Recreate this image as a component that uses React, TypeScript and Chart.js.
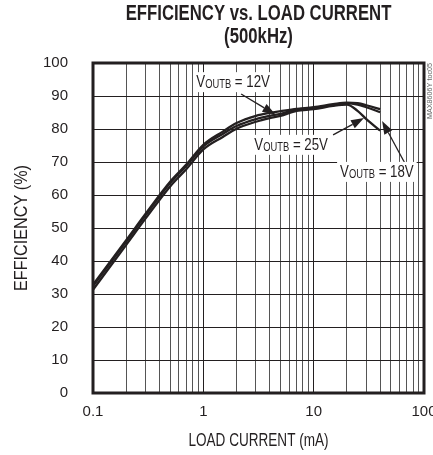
import React, { useEffect, useRef } from "react";
import { Chart, registerables } from "chart.js";
Chart.register(...registerables);

const loadCurrent = [0.1, 0.2, 0.3, 0.5, 0.7, 1, 1.5, 2, 3, 4, 5, 7, 10, 15, 20, 25, 30, 40];
const eff12V = [32.8, 46.3, 54.3, 64.0, 69.2, 75.2, 79.2, 81.8, 84.0, 84.9, 85.4, 86.1, 86.6, 87.5, 88.0, 87.8, 87.2, 86.0];
const eff18V = [32.4, 45.9, 53.9, 63.6, 68.8, 74.7, 78.5, 80.9, 83.0, 84.0, 84.6, 85.9, 86.3, 87.3, 87.8, 87.4, 86.6, 85.1];
const eff25V = [31.3, 44.9, 52.9, 62.6, 67.8, 73.8, 77.6, 80.1, 82.2, 83.3, 84.0, 85.5, 86.0, 87.0, 87.4, 85.5, 83.0, 79.5];

const xTickLabels = [0.1, 1, 10, 100];
const xGridValues = [
  0.1, 0.2, 0.3, 0.4, 0.5, 0.6, 0.7, 0.8, 0.9,
  1, 2, 3, 4, 5, 6, 7, 8, 9,
  10, 20, 30, 40, 50, 60, 70, 80, 90, 100,
];
const yTickValues = [0, 10, 20, 30, 40, 50, 60, 70, 80, 90, 100];

const titleLines = ["EFFICIENCY vs. LOAD CURRENT", "(500kHz)"];
const xTitle = "LOAD CURRENT (mA)";
const yTitle = "EFFICIENCY (%)";
const sideNote = "MAX8606Y toc05";

// label callouts in data coordinates: label centre, arrow tail, arrow tip
const callouts = [
  { main: "V", sub: "OUTB", tail: " = 12V", at: [1.86, 94.2], from: [2.2, 90.6], to: [4.5, 84.4] },
  { main: "V", sub: "OUTB", tail: " = 25V", at: [6.25, 75.2], from: [15.0, 78.2], to: [28.6, 83.3] },
  { main: "V", sub: "OUTB", tail: " = 18V", at: [37.4, 67.0], from: [67.0, 69.7], to: [41.7, 82.4] },
];

const FONT = "'Liberation Sans', Arial, sans-serif";
const INK = "#231f20";

function narrowText(ctx: any, text: string, x: number, y: number, font: string, sx: number, align: string, rot = 0) {
  ctx.save();
  ctx.translate(x, y);
  if (rot) ctx.rotate(rot);
  ctx.scale(sx, 1);
  ctx.font = font;
  ctx.textAlign = align;
  ctx.textBaseline = "middle";
  ctx.fillText(text, 0, 0);
  ctx.restore();
}

export default function App() {
  const ref = useRef<HTMLCanvasElement>(null);
  useEffect(() => {
    document.body.style.margin = "0";
    document.body.style.overflow = "hidden";
    const canvas = ref.current!;
    const pts = (ys: number[]) => loadCurrent.map((x, i) => ({ x, y: ys[i] }));

    const decor = {
      id: "decor",
      afterDatasetsDraw(chart: any) {
        const ctx = chart.ctx;
        const xs = chart.scales.x;
        const ys = chart.scales.y;
        ctx.save();
        for (const c of callouts) {
          const fx = xs.getPixelForValue(c.from[0]);
          const fy = ys.getPixelForValue(c.from[1]);
          const tx = xs.getPixelForValue(c.to[0]);
          const ty = ys.getPixelForValue(c.to[1]);
          const ang = Math.atan2(ty - fy, tx - fx);
          const hl = 13, hw = 4.5;
          const bx = tx - hl * Math.cos(ang);
          const by = ty - hl * Math.sin(ang);
          ctx.strokeStyle = INK;
          ctx.fillStyle = INK;
          ctx.lineWidth = 1.3;
          ctx.beginPath();
          ctx.moveTo(fx, fy);
          ctx.lineTo(bx, by);
          ctx.stroke();
          ctx.beginPath();
          ctx.moveTo(tx, ty);
          ctx.lineTo(bx + hw * Math.sin(ang), by - hw * Math.cos(ang));
          ctx.lineTo(bx - hw * Math.sin(ang), by + hw * Math.cos(ang));
          ctx.closePath();
          ctx.fill();

          const cx = xs.getPixelForValue(c.at[0]);
          const cy = ys.getPixelForValue(c.at[1]);
          const sx = 0.78;
          const bigFont = `17px ${FONT}`;
          const smallFont = `12px ${FONT}`;
          ctx.font = bigFont;
          const w1 = ctx.measureText(c.main).width * sx;
          const w3 = ctx.measureText(c.tail).width * sx;
          ctx.font = smallFont;
          const w2 = ctx.measureText(c.sub).width * sx;
          const total = w1 + w2 + w3;
          ctx.fillStyle = "#ffffff";
          ctx.fillRect(cx - total / 2 - 3, cy - 10, total + 6, 20);
          ctx.fillStyle = INK;
          let px = cx - total / 2;
          narrowText(ctx, c.main, px, cy, bigFont, sx, "left");
          px += w1;
          narrowText(ctx, c.sub, px, cy + 3, smallFont, sx, "left");
          px += w2;
          narrowText(ctx, c.tail, px, cy, bigFont, sx, "left");
        }
        ctx.restore();
      },
      afterDraw(chart: any) {
        const ctx = chart.ctx;
        const a = chart.chartArea;
        ctx.save();
        ctx.strokeStyle = INK;
        ctx.lineWidth = 3;
        ctx.strokeRect(a.left, a.top, a.right - a.left, a.bottom - a.top);
        ctx.fillStyle = INK;
        const mid = (a.left + a.right) / 2;
        narrowText(ctx, titleLines[0], mid, 14, `bold 22px ${FONT}`, 0.76, "center");
        narrowText(ctx, titleLines[1], mid, 37, `bold 22px ${FONT}`, 0.76, "center");
        narrowText(ctx, xTitle, mid, 441, `18px ${FONT}`, 0.753, "center");
        narrowText(ctx, yTitle, 22, (a.top + a.bottom) / 2, `18px ${FONT}`, 0.9, "center", -Math.PI / 2);
        ctx.fillStyle = "#666";
        narrowText(ctx, sideNote, a.right + 6, a.top, `8px ${FONT}`, 0.9, "right", -Math.PI / 2);
        ctx.restore();
      },
    };

    const ds = (label: string, ys: number[]) => ({
      label,
      data: pts(ys),
      borderColor: INK,
      borderWidth: 2.3,
      pointRadius: 0,
      fill: false,
      cubicInterpolationMode: "monotone" as const,
    });

    const chart = new Chart(canvas, {
      type: "line",
      data: {
        datasets: [ds("12V", eff12V), ds("18V", eff18V), ds("25V", eff25V)],
      },
      options: {
        animation: false,
        responsive: false,
        layout: { padding: { top: 63, right: 9, left: 0, bottom: 0 } },
        plugins: { legend: { display: false }, title: { display: false }, tooltip: { enabled: false } },
        scales: {
          x: {
            type: "logarithmic",
            min: 0.1,
            max: 100,
            afterBuildTicks: (s: any) => {
              s.ticks = xGridValues.map((v) => ({ value: v }));
            },
            afterFit: (s: any) => {
              s.height = 62;
              s.paddingLeft = 0;
              s.paddingRight = 0;
            },
            ticks: {
              autoSkip: false,
              maxRotation: 0,
              minRotation: 0,
              padding: 10,
              color: INK,
              font: { family: FONT, size: 15 },
              callback: (v: any) => (xTickLabels.includes(Number(v)) ? String(v) : ""),
            },
            grid: {
              drawTicks: false,
              lineWidth: 1,
              color: (c: any) => (xTickLabels.includes(c.tick?.value) ? INK : "#555"),
            },
            border: { display: false },
            title: { display: false },
          },
          y: {
            min: 0,
            max: 100,
            afterBuildTicks: (s: any) => {
              s.ticks = yTickValues.map((v) => ({ value: v }));
            },
            afterFit: (s: any) => {
              s.width = 93;
              s.paddingTop = 0;
              s.paddingBottom = 0;
            },
            ticks: {
              padding: 25,
              color: INK,
              font: { family: FONT, size: 15 },
            },
            grid: { drawTicks: false, lineWidth: 1, color: INK },
            border: { display: false },
            title: { display: false },
          },
        },
      },
      plugins: [decor],
    });
    return () => chart.destroy();
  }, []);
  return (
    <div style={{ width: 433, height: 455 }}>
      <canvas ref={ref} width={433} height={455} />
    </div>
  );
}
